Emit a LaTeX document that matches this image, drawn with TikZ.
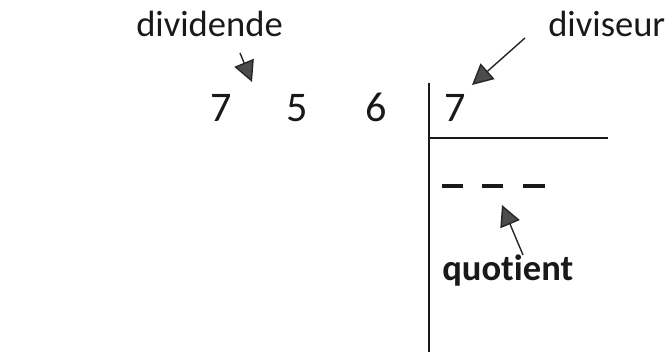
\documentclass[tikz,border=0pt]{standalone}
\usepackage{fontspec}
\setmainfont{Carlito}[Ligatures={NoCommon,NoRare,NoDiscretionary}]
\usetikzlibrary{arrows.meta}

\begin{document}
\begin{tikzpicture}[
  x=0.025cm, y=-0.025cm,
  lab/.style={font=\fontsize{26}{30}\selectfont, inner sep=0pt, anchor=base west, text=black!90},
  digit/.style={font=\fontsize{30}{36}\selectfont, inner sep=0pt, anchor=base, text=black!90},
  rule/.style={draw=black!90, line width=1.2pt},
  slot/.style={draw=black!90, line width=2.2pt},
  pointer/.style={draw=black!85, line width=1pt,
    -{Triangle[length=0.52cm, width=0.52cm, fill=black!70]}}
]
\useasboundingbox (0,0) rectangle (670,352);

% dividend digits and divisor
\foreach \x/\d/\name in {221/7/d1, 297/5/d2, 376/6/d3, 455/7/div}{
  \node[digit] (\name) at (\x,122) {\d};
}

% division bracket
\draw[rule] (429,83) -- (429,352);
\draw[rule] (429,138) -- (608,138);

% quotient places
\foreach \a/\b in {442/463, 482/503, 523/545}{
  \draw[slot] (\a,186) -- (\b,186);
}

% labels
\node[lab] (dividende) at (136,37) {dividende};
\node[lab] (diviseur) at (548,37) {diviseur};
\node[lab, font=\fontsize{26}{30}\selectfont\bfseries] (quotient) at (442,281) {quotient};

% arrows
\coordinate (dvdtail) at (240,53);
\coordinate (dvdtip) at (252,82);
\coordinate (dvstail) at (525,38);
\coordinate (dvstip) at (472,85);
\coordinate (qtail) at (523,255);
\coordinate (qtip) at (502,205);
\draw[pointer] (dvdtail) -- (dvdtip);
\draw[pointer] (dvstail) -- (dvstip);
\draw[pointer] (qtail) -- (qtip);
\end{tikzpicture}
\end{document}
